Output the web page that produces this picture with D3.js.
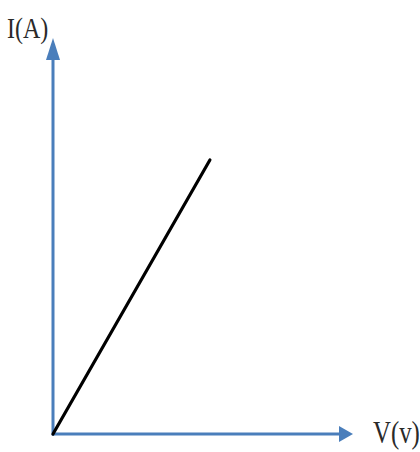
<!DOCTYPE html>
<html>
<head>
<meta charset="utf-8">
<script src="https://cdn.jsdelivr.net/npm/d3@7"></script>
<style>
  html, body { margin: 0; padding: 0; background: #fff; }
  svg { display: block; }
</style>
</head>
<body>
<div id="chart"></div>
<script>
// data: straight-line I-V characteristic (arbitrary units)
var voltage = [0, 5.23];
var current = [0, 6.92];
var axisLabels = ['V(v)', 'I(A)'];

var width = 420;
var height = 452;
var axisColor = '#4a7ebb';

var svg = d3.select('#chart').append('svg')
  .attr('width', width)
  .attr('height', height);

// scales
var x = d3.scaleLinear().domain([0, 10]).range([53, 353]);
var y = d3.scaleLinear().domain([0, 10]).range([434, 38]);

// axes (plain arrows, no ticks)
svg.append('line')
  .attr('x1', x(0)).attr('x2', x(10) - 12)
  .attr('y1', y(0)).attr('y2', y(0))
  .attr('stroke', axisColor)
  .attr('stroke-width', 3);
svg.append('path')
  .attr('d', `M${x(10)},${y(0)} L${x(10) - 14},${y(0) - 8} L${x(10) - 14},${y(0) + 8} Z`)
  .attr('fill', axisColor);

svg.append('line')
  .attr('x1', x(0)).attr('x2', x(0))
  .attr('y1', y(0) + 1.5).attr('y2', y(10) + 16)
  .attr('stroke', axisColor)
  .attr('stroke-width', 3);
svg.append('path')
  .attr('d', `M${x(0)},${y(10)} L${x(0) - 7},${y(10) + 22} L${x(0) + 7},${y(10) + 22} Z`)
  .attr('fill', axisColor);

// the I-V line
var line = d3.line()
  .x(d => x(d[0]))
  .y(d => y(d[1]));
svg.append('path')
  .datum(voltage.map((v, i) => [v, current[i]]))
  .attr('d', line)
  .attr('fill', 'none')
  .attr('stroke', '#000')
  .attr('stroke-width', 3.2)
  .attr('stroke-linecap', 'round');

// labels (narrow serif look)
svg.append('text')
  .attr('transform', `translate(${x(10) + 20},${y(0) + 9}) scale(0.8,1)`)
  .attr('font-family', 'Liberation Serif, serif')
  .attr('font-size', 31)
  .attr('fill', '#2a2a2a')
  .text(axisLabels[0]);

svg.append('text')
  .attr('transform', 'translate(7,38) scale(0.8,1)')
  .attr('font-family', 'Liberation Serif, serif')
  .attr('font-size', 30)
  .attr('fill', '#2a2a2a')
  .text(axisLabels[1]);
</script>
</body>
</html>
